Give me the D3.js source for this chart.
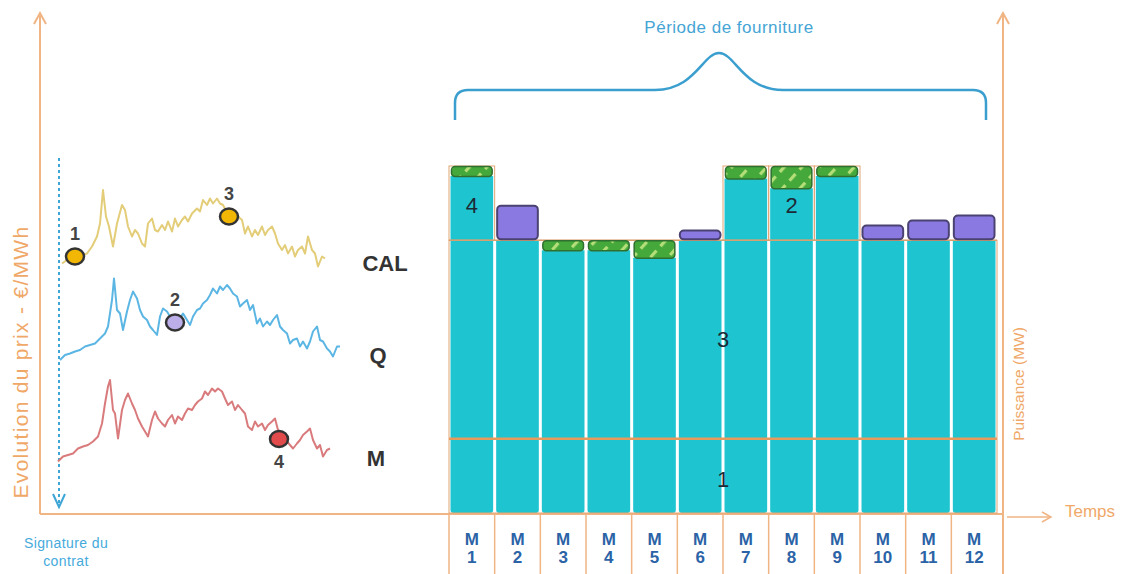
<!DOCTYPE html>
<html><head><meta charset="utf-8">
<script src="https://cdn.jsdelivr.net/npm/d3@7"></script>
<style>html,body{margin:0;padding:0;background:#fff}svg{display:block}</style>
</head><body>
<script>
// ---------- DATA ----------
const calDays   = [7,12,32,37,42,45,48,51,54,58,62,67,70,73,77,80,83,87,90,93,97,100,103,107,110,113,117,120,123,127,130,133,137,142,145,148,152,155,158,162,165,168,174,178,183,187,190,193,197,200,203,207,210,213,217,220,223,227,230,233,237,240,243,247,250,253,257,260,263,267,270];
const calPrices = [49.9,50.6,51.9,53.3,55.3,57.9,64.6,59.3,57.3,53.3,57.9,61.6,60.6,57.3,55.3,56.6,55.9,53.9,53.3,57.9,58.9,56.6,56.3,57.6,56.6,58.3,56.3,58.9,57.3,58.6,59.3,58.3,59.9,60.9,60.3,62.6,61.6,62.9,61.9,62.9,61.9,61.6,59.3,59.6,59.3,58.6,55.9,57.3,55.3,56.6,55.6,57.3,55.6,56.6,57.3,55.9,53.9,52.6,53.6,51.9,53.3,51.3,52.6,53.3,51.9,55.3,52.6,51.9,49.3,51.3,50.9];

const qDays   = [5,10,15,20,25,30,35,40,45,50,53,57,59,62,65,68,72,75,78,82,85,88,92,95,98,102,105,108,112,116,120,125,128,132,135,138,142,145,148,152,155,158,162,165,168,172,175,178,182,185,188,192,195,198,202,205,208,212,215,218,222,225,228,232,235,238,242,245,248,252,255,258,262,265,268,272,275,278,282,285];
const qPrices = [30.6,31.6,31.9,32.3,32.6,33.3,33.6,33.9,34.9,35.9,37.3,42.6,46.9,40.6,39.9,36.6,40.3,42.6,44.3,42.9,40.6,39.3,38.6,37.3,36.6,35.6,39.3,40.9,40.3,39.0,38.2,39.0,39.9,38.6,37.6,39.3,40.6,40.9,41.9,42.6,43.6,44.9,43.9,45.3,44.6,45.6,44.9,43.9,43.3,41.3,41.9,42.6,40.6,41.6,37.9,38.9,37.3,38.3,37.6,38.6,39.6,37.3,36.6,35.9,33.9,34.6,34.9,33.3,34.3,32.9,34.3,36.3,37.3,34.6,34.3,32.9,32.3,31.3,33.3,33.3];

const mDays   = [3,8,13,18,23,28,33,38,43,47,50,53,55,58,60,63,67,70,73,77,80,83,87,90,93,97,100,103,107,110,113,117,120,123,127,130,133,137,140,143,147,150,153,157,160,163,167,170,173,177,180,183,187,190,193,197,200,203,207,210,213,217,220,223,228,232,235,238,242,245,248,252,255,258,262,265,268,272,275];
const mPrices = [10.3,11.3,11.6,11.9,12.9,13.3,13.6,14.3,15.3,17.9,21.9,25.3,26.6,20.6,19.9,14.9,20.6,22.6,23.9,21.9,20.6,18.9,17.3,16.3,15.3,18.6,20.3,18.9,17.9,17.3,18.6,19.6,17.9,19.3,18.6,19.9,20.9,20.6,21.6,22.3,22.9,24.3,23.6,24.9,24.3,24.9,24.3,22.9,21.6,22.3,20.6,21.6,20.6,19.9,17.3,16.6,18.3,17.3,17.9,16.6,17.6,18.3,18.9,16.6,15.4,14.3,13.6,12.9,13.9,14.6,15.6,16.3,16.9,14.6,12.9,13.6,11.3,12.6,12.9];

const seriesNames  = ["CAL","Q","M"];
const seriesColors = ["#e3cd78","#5cb6e4","#d97b7d"];

const markerLabels = ["1","2","3","4"];
const markerDays   = [20,120,174,224];
const markerPrices = [51.3,38.1,59.3,14.8];
const markerFills  = ["#f2b705","#bcaee8","#f2b705","#e24b4b"];
const markerLabelSide = [-1,-1,-1,1];

const months     = ["1","2","3","4","5","6","7","8","9","10","11","12"];
const baseLoad   = [15,15,15,15,15,15,15,15,15,15,15,15];     // layer 1
const calQLevel  = [55,55,55,55,55,55,55,55,55,55,55,55];     // layer 3
const monthTop   = [70,55,55,55,55,55,70,70,70,55,55,55];     // layers 2 / 4
const soldBack   = [2,0,2,2,3.5,0,2.5,4.5,2,0,0,0];            // green
const boughtMore = [0,7,0,0,0,2,0,0,0,3,4,5];                  // purple

// ---------- SVG ----------
const W=1124,H=574;
const svg=d3.select("body").append("svg").attr("width",W).attr("height",H);
const FONT="'Liberation Sans', Arial, sans-serif";
const ORANGE="#f1b584", BLUE="#3ea6d6", ORTXT="#f0a868";

const defs=svg.append("defs");
const pat=defs.append("pattern").attr("id","hatch").attr("patternUnits","userSpaceOnUse")
  .attr("width",13).attr("height",15).attr("patternTransform","rotate(42)");
pat.append("rect").attr("width",13).attr("height",15).attr("fill","#44a83a");
pat.append("rect").attr("x",4).attr("y",2).attr("width",3.2).attr("height",9).attr("fill","#b4de78");

// ---------- LEFT PANEL ----------
const xL=d3.scaleLinear().domain([0,290]).range([55,345]);
const yL=d3.scaleLinear().domain([0,100]).range([513,13]);

svg.append("line").attr("x1",40).attr("x2",40).attr("y1",14).attr("y2",514).attr("stroke",ORANGE).attr("stroke-width",2);
svg.append("path").attr("d","M34,24 L40,13 L46,24").attr("fill","none").attr("stroke",ORANGE).attr("stroke-width",2);
svg.append("line").attr("x1",40).attr("x2",1003).attr("y1",514).attr("y2",514).attr("stroke",ORANGE).attr("stroke-width",2);

svg.append("text").attr("transform","translate(28,362) rotate(-90)").attr("text-anchor","middle")
  .attr("font-family",FONT).attr("font-size",21).attr("letter-spacing",1.3).attr("fill",ORTXT).text("Evolution du prix - €/MWh");

svg.append("line").attr("x1",59).attr("x2",59).attr("y1",158).attr("y2",507).attr("stroke",BLUE)
  .attr("stroke-width",2).attr("stroke-dasharray","3,3");
svg.append("path").attr("d","M53,494 L59,507 L65,494").attr("fill","none").attr("stroke",BLUE).attr("stroke-width",2);
const sig=svg.append("text").attr("text-anchor","middle").attr("font-family",FONT).attr("font-size",14)
  .attr("letter-spacing",0.4).attr("fill","#45aadb");
sig.append("tspan").attr("x",66).attr("y",548).text("Signature du");
sig.append("tspan").attr("x",66).attr("y",566).text("contrat");

const seriesData=[
  calDays.map((d,i)=>[d,calPrices[i]]),
  qDays.map((d,i)=>[d,qPrices[i]]),
  mDays.map((d,i)=>[d,mPrices[i]])
];
const line=d3.line().x(d=>xL(d[0])).y(d=>yL(d[1]));
seriesData.forEach((s,i)=>{
  svg.append("path").attr("d",line(s)).attr("fill","none").attr("stroke",seriesColors[i])
    .attr("stroke-width",2).attr("stroke-linejoin","round");
});
const seriesLabelPos=[[330,50],[323,31.6],[321,11]];
seriesNames.forEach((n,i)=>{
  svg.append("text").attr("x",xL(seriesLabelPos[i][0])).attr("y",yL(seriesLabelPos[i][1]))
    .attr("dy","0.35em").attr("text-anchor","middle").attr("font-family",FONT).attr("font-weight","bold")
    .attr("font-size",22).attr("fill","#333").text(n);
});

markerLabels.forEach((l,i)=>{
  const cx=xL(markerDays[i]), cy=yL(markerPrices[i]);
  svg.append("ellipse").attr("cx",cx).attr("cy",cy).attr("rx",9).attr("ry",8).attr("fill",markerFills[i])
    .attr("stroke","#333").attr("stroke-width",2.5);
  svg.append("text").attr("x",cx).attr("y",cy+markerLabelSide[i]*23).attr("dy","0.35em").attr("text-anchor","middle")
    .attr("font-family",FONT).attr("font-weight","bold").attr("font-size",18).attr("fill","#444").text(l);
});

// ---------- RIGHT PANEL ----------
const xB=d3.scaleBand().domain(months).range([449,997]).padding(0);
const yP=d3.scaleLinear().domain([0,70]).range([513,166]);
const bw=xB.bandwidth();

months.forEach((m,i)=>{
  const top=yP(monthTop[i]-soldBack[i]);
  const x0=xB(m)+1.5,x1=xB(m)+bw-1.5,y0=top,y1=yP(0),r=3;
  svg.append("path").attr("fill","#1ec5d1")
    .attr("d",`M${x0},${y0} L${x1},${y0} L${x1},${y1-r} Q${x1},${y1} ${x1-r},${y1} L${x0+r},${y1} Q${x0},${y1} ${x0},${y1-r} Z`);
});
months.forEach((m,i)=>{
  if(monthTop[i]>calQLevel[i]){
    svg.append("rect").attr("x",xB(m)).attr("y",yP(monthTop[i])).attr("width",bw)
      .attr("height",yP(calQLevel[i])-yP(monthTop[i])).attr("fill","none").attr("stroke","#e2a575").attr("stroke-width",1);
  }
});
svg.append("rect").attr("x",449).attr("y",yP(calQLevel[0])).attr("width",548).attr("height",yP(0)-yP(calQLevel[0]))
  .attr("fill","none").attr("stroke","#e2a575").attr("stroke-width",1);
svg.append("line").attr("x1",449).attr("x2",997).attr("y1",yP(calQLevel[0])).attr("y2",yP(calQLevel[0]))
  .attr("stroke","#d9a06e").attr("stroke-width",1.5);
svg.append("line").attr("x1",449).attr("x2",997).attr("y1",yP(baseLoad[0])).attr("y2",yP(baseLoad[0]))
  .attr("stroke","#e69a5c").attr("stroke-width",2.5);

months.forEach((m,i)=>{
  if(soldBack[i]>0){
    svg.append("rect").attr("x",xB(m)+2.5).attr("y",yP(monthTop[i])+0.5).attr("width",bw-5)
      .attr("height",yP(monthTop[i]-soldBack[i])-yP(monthTop[i])).attr("rx",3.5)
      .attr("fill","url(#hatch)").attr("stroke","#2f6f2f").attr("stroke-width",1.5);
  }
});
months.forEach((m,i)=>{
  if(boughtMore[i]>0){
    const top=monthTop[i]+boughtMore[i];
    svg.append("rect").attr("x",xB(m)+2.5).attr("y",yP(top)).attr("width",bw-5)
      .attr("height",yP(monthTop[i])-yP(top)-1).attr("rx",4)
      .attr("fill","#8b79e2").attr("stroke","#4b4272").attr("stroke-width",2);
  }
});

const NUMC="#1d2a36";
[["4",xB("1")+bw/2,62],["2",xB("8")+bw/2,62],["3",723,35],["1",723,6.7]].forEach(a=>{
  svg.append("text").attr("x",a[1]).attr("y",yP(a[2])).attr("dy","0.35em").attr("text-anchor","middle")
    .attr("font-family",FONT).attr("font-size",22).attr("fill",NUMC).text(a[0]);
});

months.forEach(m=>{
  svg.append("line").attr("x1",xB(m)).attr("x2",xB(m)).attr("y1",514).attr("y2",574).attr("stroke",ORANGE).attr("stroke-width",1.5);
  const t=svg.append("text").attr("text-anchor","middle").attr("font-family",FONT).attr("font-weight","bold")
    .attr("font-size",17).attr("fill","#2b63a6");
  t.append("tspan").attr("x",xB(m)+bw/2).attr("y",545).text("M");
  t.append("tspan").attr("x",xB(m)+bw/2).attr("y",563).text(m);
});

svg.append("line").attr("x1",1003).attr("x2",1003).attr("y1",14).attr("y2",574).attr("stroke",ORANGE).attr("stroke-width",2);
svg.append("path").attr("d","M997,24 L1003,13 L1009,24").attr("fill","none").attr("stroke",ORANGE).attr("stroke-width",2);
svg.append("text").attr("transform","translate(1024,384) rotate(-90)").attr("text-anchor","middle")
  .attr("font-family",FONT).attr("font-size",15.5).attr("fill",ORTXT).text("Puissance (MW)");
svg.append("line").attr("x1",1007).attr("x2",1051).attr("y1",517).attr("y2",517).attr("stroke",ORANGE).attr("stroke-width",1.5);
svg.append("path").attr("d","M1042,512 L1051,517 L1042,522").attr("fill","none").attr("stroke",ORANGE).attr("stroke-width",1.5);
svg.append("text").attr("x",1065).attr("y",511).attr("dy","0.35em").attr("font-family",FONT).attr("font-size",17)
  .attr("fill",ORTXT).text("Temps");

svg.append("path").attr("d","M455,120 L455,103 Q455,90 468,90 L655,90 C695,90 703,53 719,53 C735,53 743,90 783,90 L973,90 Q986,90 986,103 L986,120")
  .attr("fill","none").attr("stroke","#3a9fcf").attr("stroke-width",2.5);
svg.append("text").attr("x",729).attr("y",27).attr("dy","0.35em").attr("text-anchor","middle")
  .attr("font-family",FONT).attr("font-size",17).attr("letter-spacing",0.5).attr("fill","#45a5d5").text("Période de fourniture");
</script>
</body></html>
